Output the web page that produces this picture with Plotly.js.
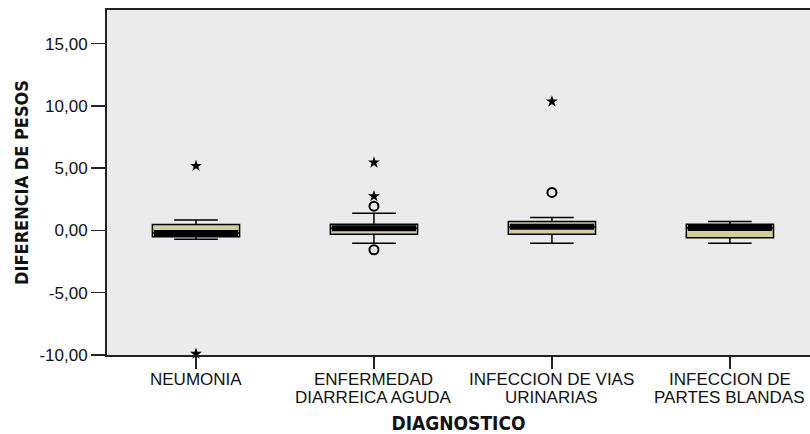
<!DOCTYPE html>
<html>
<head>
<meta charset="utf-8">
<script src="https://cdn.plot.ly/plotly-3.0.1.min.js"></script>
<style>html,body{margin:0;padding:0;background:#fff;}#chart{width:810px;height:434px;}</style>
</head>
<body>
<div id="chart"></div>
<script>
// Data
var categories = ["NEUMONIA", "ENFERMEDAD DIARREICA AGUDA", "INFECCION DE VIAS URINARIAS", "INFECCION DE PARTES BLANDAS"];
var tickLine1 = ["NEUMONIA", "ENFERMEDAD", "INFECCION DE VIAS", "INFECCION DE"];
var tickLine2 = ["", "DIARREICA AGUDA", "URINARIAS", "PARTES BLANDAS"];
var lowerWhisker = [-0.71, -1.03, -1.03, -1.03];
var q1 = [-0.50, -0.30, -0.30, -0.58];
var median = [-0.20, 0.18, 0.30, 0.20];
var q3 = [0.47, 0.50, 0.71, 0.50];
var upperWhisker = [0.84, 1.38, 1.03, 0.71];
// outliers (circles) and extremes (stars)
var outlierCat = ["ENFERMEDAD DIARREICA AGUDA", "ENFERMEDAD DIARREICA AGUDA", "INFECCION DE VIAS URINARIAS"];
var outlierVal = [1.95, -1.55, 3.05];
var extremeCat = ["NEUMONIA", "NEUMONIA", "ENFERMEDAD DIARREICA AGUDA", "ENFERMEDAD DIARREICA AGUDA", "INFECCION DE VIAS URINARIAS"];
var extremeVal = [5.18, -9.9, 5.45, 2.75, 10.35];
var yTicks = [-10, -5, 0, 5, 10, 15];
var yTickText = yTicks.map(function (v) { return v.toFixed(2).replace(".", ","); });

var boxWidth = 0.49;
var plotW = 810 - 107;
var xRange = [-0.5, 3.45];
var pxPerCat = plotW / (xRange[1] - xRange[0]);

var tickFont = {family: "Liberation Sans, Arial, sans-serif", size: 17, color: "#111111"};
var titleFamily = "Liberation Sans Narrow, Arial Narrow, DejaVu Sans Condensed, sans-serif";

var traces = [
  {
    type: "box",
    x: categories,
    q1: q1, median: median, q3: q3,
    lowerfence: lowerWhisker, upperfence: upperWhisker,
    width: boxWidth,
    whiskerwidth: 0.5,
    fillcolor: "rgb(212,207,152)",
    line: {color: "#000000", width: 1.5},
    boxpoints: false,
    hoverinfo: "skip",
    showlegend: false
  },
  {
    type: "scatter", mode: "markers",
    x: categories, y: median,
    marker: {symbol: "line-ew-open", size: (boxWidth * pxPerCat - 3) / 1.4, color: "#000000", line: {color: "#000000", width: 6}},
    showlegend: false, hoverinfo: "skip", cliponaxis: false
  },
  {
    type: "scatter", mode: "markers",
    x: outlierCat, y: outlierVal,
    marker: {symbol: "circle-open", size: 9, color: "#000000", line: {color: "#000000", width: 2}},
    showlegend: false, hoverinfo: "skip", cliponaxis: false
  },
  {
    type: "scatter", mode: "markers",
    x: extremeCat, y: extremeVal,
    marker: {symbol: "star", size: 9, color: "#000000", line: {width: 0}},
    showlegend: false, hoverinfo: "skip", cliponaxis: false
  }
];

var annotations = [];
categories.forEach(function (c, i) {
  annotations.push({x: c, xref: "x", y: 0, yref: "paper", yanchor: "top", yshift: -13,
    text: tickLine1[i], showarrow: false, font: tickFont});
  if (tickLine2[i]) {
    annotations.push({x: c, xref: "x", y: 0, yref: "paper", yanchor: "top", yshift: -31,
      text: tickLine2[i], showarrow: false, font: tickFont});
  }
});

var layout = {
  width: 810, height: 434,
  margin: {l: 107, r: 0, t: 10, b: 79, pad: 0},
  paper_bgcolor: "#ffffff",
  plot_bgcolor: "#EBEBEB",
  showlegend: false,
  font: {family: "Liberation Sans, Arial, sans-serif", size: 17, color: "#000000"},
  annotations: annotations,
  xaxis: {
    type: "category",
    categoryarray: categories,
    range: xRange,
    showgrid: false, zeroline: false,
    showline: true, linecolor: "#222222", linewidth: 2, mirror: true,
    ticks: "outside", ticklen: 12, tickwidth: 1.5, tickcolor: "#222222",
    showticklabels: false,
    title: {text: "DIAGNOSTICO", font: {family: titleFamily, size: 19, weight: "bold", color: "#111111"}, standoff: 52},
    fixedrange: true
  },
  yaxis: {
    range: [-10, 17.7],
    tickvals: yTicks,
    ticktext: yTickText,
    showgrid: false, zeroline: false,
    showline: true, linecolor: "#222222", linewidth: 2, mirror: false,
    ticks: "outside", ticklen: 14, tickwidth: 1.5, tickcolor: "#222222",
    tickfont: tickFont,
    title: {text: "DIFERENCIA DE PESOS", font: {family: titleFamily, size: 18, weight: "bold", color: "#111111"}, standoff: 6},
    fixedrange: true
  }
};

Plotly.newPlot("chart", traces, layout, {staticPlot: true, displayModeBar: false});
</script>
</body>
</html>
